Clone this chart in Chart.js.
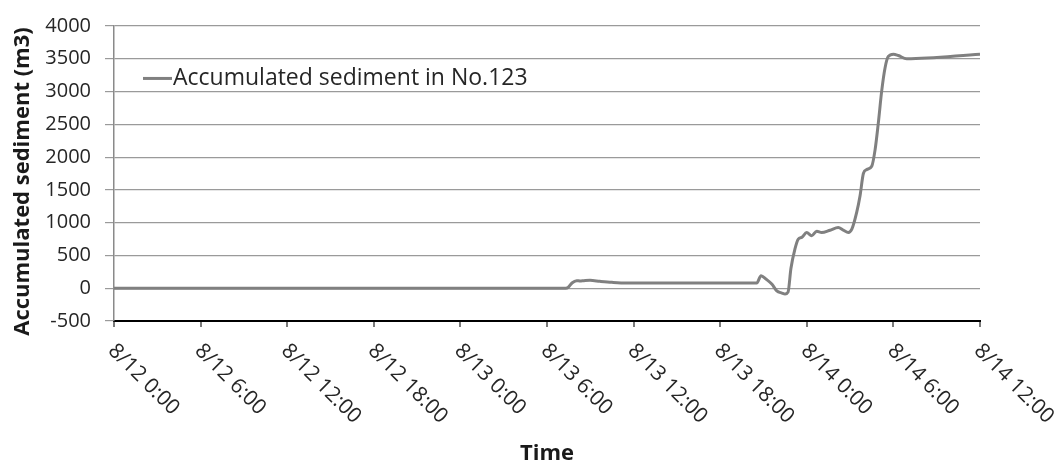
<!DOCTYPE html>
<html>
<head>
<meta charset="utf-8">
<script src="https://cdn.jsdelivr.net/npm/chart.js@4"></script>
<style>
  html, body { margin: 0; padding: 0; background: #ffffff; }
  #wrap { position: relative; width: 1064px; height: 469px; }
</style>
</head>
<body>
<div id="wrap"><canvas id="chart" width="1064" height="469"></canvas></div>
<script>
// Elapsed hours since 8/12 0:00 and accumulated sediment volume (m3)
const hours = [
  0, 31.3, 31.46, 31.73, 32.06, 32.29, 32.56, 32.98, 33.67, 34.5, 35.52,
  44.53, 44.83, 45.17, 45.59, 45.92, 46.28, 46.49, 46.7, 46.9, 47.18,
  47.41, 47.65, 47.99, 48.34, 48.69, 49.03, 49.61, 50.18, 50.53, 50.88,
  51.12, 51.46, 51.69, 51.92, 52.15, 52.5, 52.73, 52.95, 53.19, 53.42,
  53.65, 54.0, 54.34, 54.92, 60
];
const sediment = [
  0, 0, 10, 80, 115, 110, 115, 120, 105, 90, 80,
  80, 190, 140, 60, -40, -75, -90, -60, 300, 600,
  750, 775, 850, 800, 870, 850, 885, 925, 885, 850,
  900, 1160, 1410, 1750, 1810, 1860, 2110, 2510, 3010, 3360,
  3535, 3570, 3550, 3500, 3570
];
const seriesName = 'Accumulated sediment in No.123';
const timeTickLabels = [
  '8/12 0:00', '8/12 6:00', '8/12 12:00', '8/12 18:00',
  '8/13 0:00', '8/13 6:00', '8/13 12:00', '8/13 18:00',
  '8/14 0:00', '8/14 6:00', '8/14 12:00'
];
const yTitle = 'Accumulated sediment (m3)';
const xTitle = 'Time';

const FONT = '"Open Sans", Lato, sans-serif';
const LINE_GRAY = '#808080';

// Slanted date labels under the time axis, reading downward to the right
const slantedTimeLabels = {
  id: 'slantedTimeLabels',
  afterDraw(chart) {
    const sx = chart.scales.x;
    const ctx = chart.ctx;
    ctx.save();
    ctx.font = '21px ' + FONT;
    ctx.fillStyle = '#262626';
    ctx.textAlign = 'left';
    ctx.textBaseline = 'top';
    sx.ticks.forEach((t) => {
      const idx = Math.round(t.value / 6);
      const label = timeTickLabels[idx];
      if (label === undefined) return;
      const px = sx.getPixelForValue(t.value);
      ctx.save();
      ctx.translate(px + 5, sx.top + 19);
      ctx.rotate(Math.PI / 4);
      ctx.fillText(label, 0, 0);
      ctx.restore();
    });
    ctx.restore();
  }
};

// Vertical title for the volume axis, at the left edge
const volumeTitle = {
  id: 'volumeTitle',
  afterDraw(chart) {
    const ctx = chart.ctx;
    const sy = chart.scales.y;
    ctx.save();
    ctx.font = 'bold 22px ' + FONT;
    ctx.fillStyle = '#1a1a1a';
    ctx.textAlign = 'center';
    ctx.textBaseline = 'middle';
    ctx.translate(23, (sy.top + sy.bottom) / 2 + 8);
    ctx.rotate(-Math.PI / 2);
    ctx.fillText(yTitle, 0, 0);
    ctx.restore();
  }
};

// Legend entry placed inside the plot area, upper left
const innerLegend = {
  id: 'innerLegend',
  afterDatasetsDraw(chart) {
    const ctx = chart.ctx;
    const area = chart.chartArea;
    const ds = chart.data.datasets[0];
    const x0 = area.left + 29;
    const y0 = chart.scales.y.getPixelForValue(3200);
    ctx.save();
    ctx.strokeStyle = ds.borderColor;
    ctx.lineWidth = 3;
    ctx.beginPath();
    ctx.moveTo(x0, y0);
    ctx.lineTo(x0 + 29, y0);
    ctx.stroke();
    ctx.font = '23px ' + FONT;
    ctx.fillStyle = '#262626';
    ctx.textAlign = 'left';
    ctx.textBaseline = 'middle';
    ctx.fillText(ds.label, x0 + 30, y0);
    ctx.restore();
  }
};

new Chart(document.getElementById('chart'), {
  type: 'line',
  data: {
    datasets: [{
      label: seriesName,
      data: hours.map((h, i) => ({ x: h, y: sediment[i] })),
      borderColor: LINE_GRAY,
      borderWidth: 3,
      pointRadius: 0,
      fill: false,
      cubicInterpolationMode: 'monotone'
    }]
  },
  options: {
    responsive: false,
    animation: false,
    layout: { padding: { left: 0, right: 84, top: 10, bottom: 0 } },
    plugins: {
      legend: { display: false },
      tooltip: { enabled: false }
    },
    scales: {
      x: {
        type: 'linear',
        min: 0,
        max: 60,
        ticks: { display: false, stepSize: 6 },
        grid: {
          drawOnChartArea: false,
          drawTicks: true,
          tickLength: 6,
          color: '#7a7a7a',
          lineWidth: 2
        },
        border: { color: '#000000', width: 2 },
        title: {
          display: true,
          text: xTitle,
          font: { family: FONT, size: 22, weight: 'bold' },
          color: '#1a1a1a',
          padding: { top: 0, bottom: 2 }
        },
        afterFit(scale) { scale.height = 148; }
      },
      y: {
        min: -500,
        max: 4000,
        ticks: {
          stepSize: 500,
          padding: 14,
          font: { family: FONT, size: 20 },
          color: '#262626',
          callback: (v) => String(v)
        },
        grid: {
          color: '#9a9a9a',
          lineWidth: 1.2,
          tickLength: 9,
          drawTicks: true
        },
        border: { color: '#8a8a8a', width: 1.5 },
        title: { display: false },
        afterFit(scale) { scale.width = 114; }
      }
    }
  },
  plugins: [innerLegend, slantedTimeLabels, volumeTitle]
});
</script>
</body>
</html>
